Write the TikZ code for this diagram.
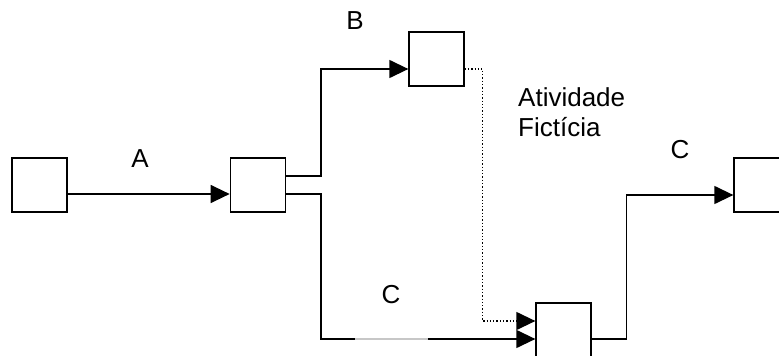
\documentclass[tikz,border=0pt]{standalone}
\usepackage{fontspec}
\setmainfont{Liberation Sans}
\usetikzlibrary{arrows.meta, positioning, calc}
\tikzset{
  event/.style={rectangle, draw=black, line width=1.3pt, fill=white,
                minimum width=55pt, minimum height=54pt, inner sep=0pt},
  act/.style  ={-{Triangle[length=19pt, width=18pt]}, draw=black, line width=1.3pt},
  dummy/.style={act, dotted},
  gap/.style  ={draw=black!22, line width=1.3pt},
  lbl/.style  ={font=\fontsize{26}{30}\selectfont, inner sep=0pt},
}

\begin{document}
\begin{tikzpicture}[x=1pt, y=-1pt]
\useasboundingbox (0,0) rectangle (779,356);

% ---- events ----
\node[event] (e1) at (39.5,185) {};
\node[event, right=162pt of e1] (e2) {};
\node[event] (e3) at (436.5,59) {};
\node[event] (e4) at (563.5,330) {};
\node[event] (e5) at (761.5,185) {};

% ---- activities ----
\draw[act] ($(e1.east)+(0,9)$) -- ($(e2.west)+(0,9)$);
\draw[act] ($(e2.east)+(0,-9)$) -- ++(35,0) |- ($(e3.west)+(0,10)$);
\draw[act] ($(e2.east)+(0,9)$) -- ++(35,0) |- ($(e4.west)+(0,9)$);
\draw[dummy] ($(e3.east)+(0,10)$) -- ++(18,0) |- ($(e4.west)+(0,-9)$);
\draw[act] ($(e4.east)+(0,9)$) -- ++(35,0) |- ($(e5.west)+(0,10)$);

% ---- labels ----
\node[lbl] (lA) at (140,159) {A};
\node[lbl] (lB) at (355,21) {B};
\node[lbl] (lC) at (391,295) {C};
\node[lbl] (lC2) at (680,150) {C};
\node[lbl, align=left, anchor=west] (lF) at (518,112) {Atividade\\Fictícia};
\draw[gap] ($(lC)+(-36,44)$) -- ++(73,0);

\end{tikzpicture}
\end{document}
